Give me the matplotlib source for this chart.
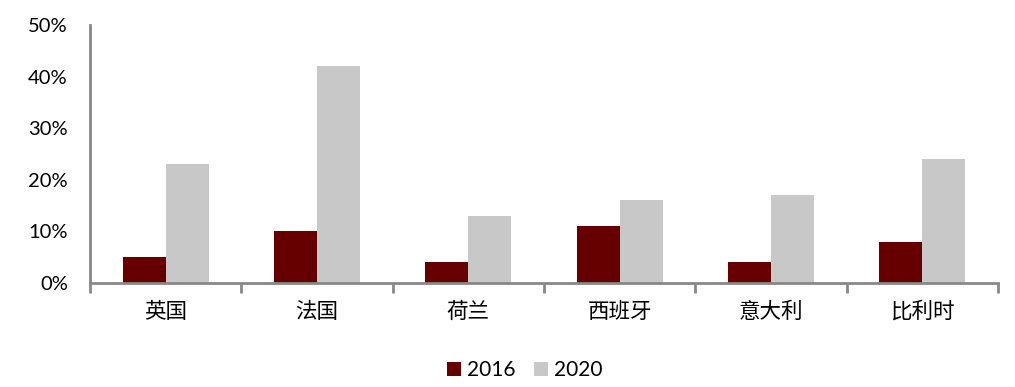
import matplotlib
matplotlib.use("Agg")
import matplotlib.pyplot as plt
import numpy as np
from matplotlib.ticker import FuncFormatter, FixedLocator

categories = ["英国", "法国", "荷兰", "西班牙", "意大利", "比利时"]
v2016 = [5, 10, 4, 11, 4, 8]
v2020 = [23, 42, 13, 16, 17, 24]
series_names = ["2016", "2020"]
yticks = [0, 10, 20, 30, 40, 50]

c16 = "#660000"
c20 = "#C8C8C8"
spine_c = "#888888"

fig = plt.figure(figsize=(10.15, 3.87), dpi=100)
ax = fig.add_axes([90/1015, 1-283/387, (998-90)/1015, (283-25)/387])

x = np.arange(len(categories))
w = 0.284
ax.bar(x - w/2, v2016, width=w, color=c16, label=series_names[0], zorder=2)
ax.bar(x + w/2, v2020, width=w, color=c20, label=series_names[1], zorder=2)

ax.set_xlim(-0.5, len(categories) - 0.5)
ax.set_ylim(0, 50)
ax.set_yticks(yticks)
ax.yaxis.set_major_formatter(FuncFormatter(lambda v, p: f"{int(v)}%"))
ax.tick_params(axis="y", length=0, pad=16, labelsize=14.5)
for t in ax.get_yticklabels():
    t.set_fontfamily(["Lato", "DejaVu Sans"])

ax.set_xticks(x)
ax.set_xticklabels(categories, fontfamily=["Noto Sans CJK SC", "DejaVu Sans"], fontsize=15.5)
ax.tick_params(axis="x", which="major", length=0, pad=13)
ax.xaxis.set_minor_locator(FixedLocator(np.arange(-0.5, len(categories), 1.0)))
ax.tick_params(axis="x", which="minor", length=7, width=2, color=spine_c)

for s in ["top", "right"]:
    ax.spines[s].set_visible(False)
for s in ["left", "bottom"]:
    ax.spines[s].set_color(spine_c)
    ax.spines[s].set_linewidth(2)

leg = fig.legend(loc="center", bbox_to_anchor=(525/1015, 1-370/387), ncol=2, frameon=False,
                 prop={"family": ["Lato", "DejaVu Sans"], "size": 15},
                 handlelength=0.65, handleheight=0.65, handletextpad=0.3, columnspacing=0.9)

fig.savefig("out.png", dpi=100)
